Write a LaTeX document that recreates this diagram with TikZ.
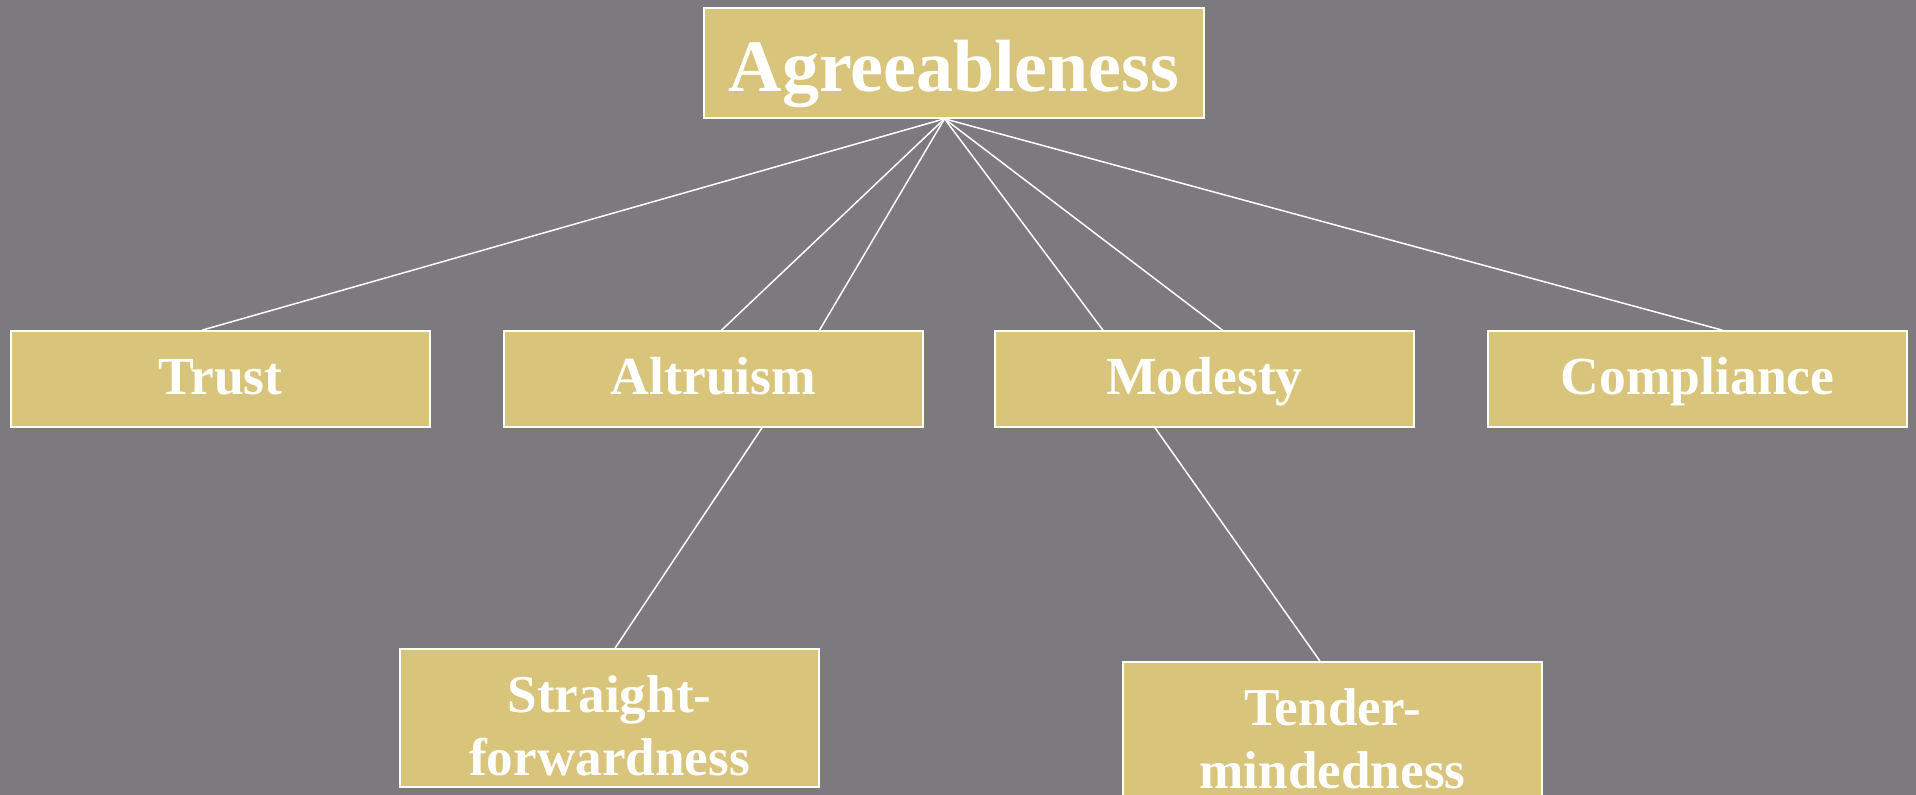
\documentclass[tikz,border=0pt]{standalone}
\usepackage{fontspec}
\setmainfont{Liberation Serif}
\usetikzlibrary{calc}
\definecolor{bggray}{HTML}{7C7A7F}
\definecolor{boxgold}{HTML}{D9C47B}
\tikzset{
  box/.style={draw=white, line width=0.8pt, fill=boxgold, inner sep=0pt, text=white,
    font=\fontsize{26.8pt}{31.5pt}\selectfont\bfseries},
  rowbox/.style={box, minimum width=209.5pt, minimum height=48pt, text height=21.5pt, text depth=5.8pt},
  lowbox/.style={box, minimum width=209.5pt, minimum height=69pt},
  topbox/.style={box, minimum width=250pt, minimum height=55pt,
    font=\fontsize{37pt}{40pt}\selectfont\bfseries, text height=36pt, text depth=7.4pt},
  lbl/.style={text=white, align=center, inner sep=0pt,
    font=\fontsize{26.6pt}{31.5pt}\selectfont\bfseries},
  conn/.style={draw=white, line width=0.75pt}
}
\begin{document}
\begin{tikzpicture}[x=0.5pt, y=-0.5pt]
\fill[bggray] (0,0) rectangle (1916,795);
\useasboundingbox (0,0) rectangle (1916,795);
\clip (0,0) rectangle (1916,795);
% boxes
\node[topbox] (agr) at (954,63) {Agreeableness};
\node[rowbox] (trust) at (220.5,379) {Trust};
\node[rowbox] (alt) at (713.5,379) {Altruism};
\node[rowbox] (mod) at (1204.5,379) {Modesty};
\node[rowbox] (comp) at (1697.5,379) {Compliance};
\node[lowbox] (sf) at (609.5,718) {};
\node[lbl] (sftext) at (609.5,725.4) {Straight-\\forwardness};
\node[lowbox] (tm) at (1332.5,731) {};
\node[lbl] (tmtext) at (1332.5,738.4) {Tender-\\mindedness};
% connectors
\coordinate (apex) at ($(agr.south)+(-9.5,0)$);
\draw[conn] (apex) -- ($(trust.north)+(-18.5,0)$);
\draw[conn] (apex) -- ($(alt.north)+(8,0)$);
\draw[conn] (apex) -- ($(alt.north)+(106,0)$);
\draw[conn] (apex) -- ($(mod.north)+(-101.5,0)$);
\draw[conn] (apex) -- ($(mod.north)+(18,0)$);
\draw[conn] (apex) -- ($(comp.north)+(25,0)$);
\draw[conn] ($(alt.south)+(48.5,0)$) -- ($(sf.north)+(5.5,0)$);
\draw[conn] ($(mod.south)+(-49.5,0)$) -- ($(tm.north)+(-12.5,0)$);
\end{tikzpicture}
\end{document}
